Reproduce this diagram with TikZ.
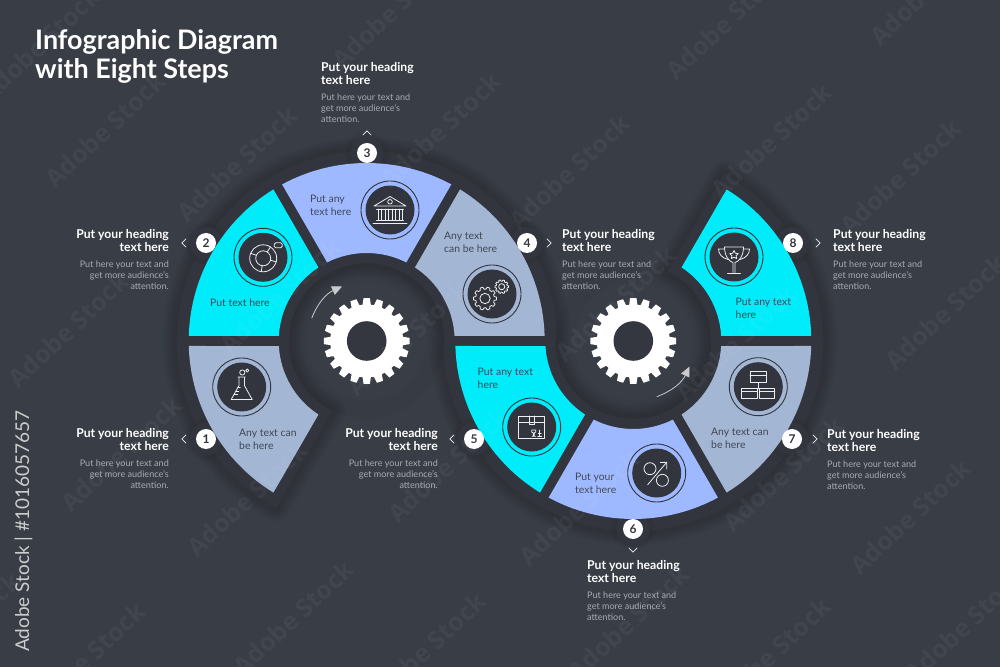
\documentclass[tikz,border=0pt]{standalone}
\usepackage{fontspec}
\setmainfont{Lato}
\newfontfamily\wmfont{Open Sans}
\usetikzlibrary{arrows.meta}
\definecolor{bgc}{HTML}{393D45}
\definecolor{bandc}{HTML}{32353D}
\definecolor{discc}{HTML}{34373F}
\definecolor{cyanc}{HTML}{00ECFB}
\definecolor{perc}{HTML}{9EB9FF}
\definecolor{grayc}{HTML}{A3B6D3}
\definecolor{segtxt}{HTML}{414857}
\definecolor{bodyc}{HTML}{A8ABB1}
\definecolor{iconc}{HTML}{ECEEF2}
\tikzset{
 x=1pt,y=1pt,
 hd/.style={text=white,inner sep=0pt,font=\bfseries\fontsize{12.2}{14}\selectfont},
 bd/.style={text=bodyc,inner sep=0pt,font=\fontsize{9.05}{11}\selectfont},
 sg/.style={text=segtxt,inner sep=0pt,anchor=base west,font=\fontsize{10.4}{13}\selectfont},
 ttl/.style={text=white,inner sep=0pt,anchor=base west,font=\bfseries\fontsize{26.9}{30}\selectfont},
 badge/.style={circle,fill=white,inner sep=0pt,minimum size=20pt,text=bandc,font=\bfseries\fontsize{12}{12}\selectfont},
 chev/.style={draw=iconc,line width=0.7pt},
 icon/.style={draw=iconc,line width=0.8pt,line join=round,line cap=round},
 flowarrow/.style={draw=iconc!85!black,line width=0.8pt,-{Triangle[length=10pt,width=9pt]}},
 wmark/.style={text=white,opacity=0.045,rotate=43,inner sep=0pt,font=\wmfont\bfseries\fontsize{25}{25}\selectfont},
}
\newcommand\ringseg[5]{\fill[#5,shift={(#1,#2)}] ({#3+1.61}:178) arc[start angle=#3+1.61,end angle=#4-1.61,radius=178] -- ({#4-3.26}:88) arc[start angle=#4-3.26,end angle=#3+3.26,radius=88] -- cycle;}
\newcommand\whgear[2]{\fill[white,shift={(#1,#2)}] (-6.5:36.5) \foreach \a in {0,18,...,342} { -- ({\a-6.5}:36.5) -- ({\a-4.2}:43) -- ({\a+4.2}:43) -- ({\a+6.5}:36.5) } -- cycle;
 \fill[discc,shift={(#1,#2)}] (0,0) circle[radius=19.8];}
\newcommand\linegear[3]{\draw[icon,shift={(#1,#2)},scale=#3] ({-12}:0.82) \foreach \a in {0,36,...,324} { -- ({\a-12}:0.82) -- ({\a-7}:1) -- ({\a+7}:1) -- ({\a+12}:0.82) } -- cycle;
 \draw[icon,shift={(#1,#2)}] (0,0) circle[radius=#3*0.45];}
\newcommand\iconbase[2]{\draw[bandc,line width=0.9pt] (#1,#2) circle[radius=29]; \fill[bandc] (#1,#2) circle[radius=24.5];}
\newcommand\block[4]{%
 \node[hd,anchor=base #2] (#1a) at (#3,{667-#4-4}) {Put your heading};
 \node[hd,anchor=base #2] (#1b) at (#3,{667-#4-17}) {text here};
 \node[bd,anchor=base #2] (#1c) at (#3,{667-#4-33}) {Put here your text and};
 \node[bd,anchor=base #2] (#1d) at (#3,{667-#4-44}) {get more audience's};
 \node[bd,anchor=base #2] (#1e) at (#3,{667-#4-55}) {attention.};
}
\newcommand\stext[5]{%
 \node[sg] (#1a) at (#2,{667-#3-3.5}) {#4};
 \ifx&#5&\else\node[sg] (#1b) at (#2,{667-#3-16.5}) {#5};\fi
}
\newcommand\chev[3]{\draw[chev,shift={(#1,{667-#2})},rotate=#3] (2.2,4.2) -- (-2.2,0) -- (2.2,-4.2);}
\def\spath{([shift={(366.7,326)}]241.5:190) arc[start angle=241.5,end angle=0,radius=190]
 -- ([shift={(633.3,326)}]180:78) arc[start angle=180,end angle=423.7,radius=78]
 -- ([shift={(633.3,326)}]61.5:190) arc[start angle=61.5,end angle=-180,radius=190]
 -- ([shift={(366.7,326)}]0:78) arc[start angle=0,end angle=243.7,radius=78] -- cycle}
\begin{document}
\begin{tikzpicture}
\useasboundingbox (0,0) rectangle (1000,667);
\fill[bgc] (0,0) rectangle (1000,667);
% soft shadow
\foreach \w in {28,24,20,16,12,8,4}{
 \draw[black,opacity=0.02,line width=\w pt,line join=round] \spath;
}
\fill[bandc] \spath;
% inner discs
\foreach \c in {366.7,633.3}{
 \foreach \r in {76,73,70,67,64,61}{
  \draw[black,opacity=0.025,line width=3pt] (\c,326) circle[radius=\r];
 }
}
% badge backings
\foreach \x/\y in {206/439,206/243,367/153,527/243,474/439,633/529,792/439,793/243}{
 \foreach \w in {12,8,4}{\draw[black,opacity=0.02,line width=\w pt] (\x,{667-\y}) circle[radius=16];}
 \fill[bandc] (\x,{667-\y}) circle[radius=16.5];
}
% segments
\ringseg{366.7}{326}{180}{240}{grayc}
\ringseg{366.7}{326}{120}{180}{cyanc}
\ringseg{366.7}{326}{60}{120}{perc}
\ringseg{366.7}{326}{0}{60}{grayc}
\ringseg{633.3}{326}{180}{240}{cyanc}
\ringseg{633.3}{326}{240}{300}{perc}
\ringseg{633.3}{326}{300}{360}{grayc}
\ringseg{633.3}{326}{0}{60}{cyanc}
% gears
\whgear{366.7}{326}
\whgear{633.3}{326}
% flow arrows
\coordinate (a1s) at (311.7,348.7);
\coordinate (a1e) at (342,380.5);
\draw[flowarrow] (a1s) to[bend left=22] (a1e);
\coordinate (a2s) at (656.7,270.3);
\coordinate (a2e) at (689.5,300.5);
\draw[flowarrow] (a2s) to[bend right=22] (a2e);
% icon discs
\iconbase{241.7}{280}
\iconbase{263}{409.7}
\iconbase{390}{457}
\iconbase{492}{373}
\iconbase{531.7}{240}
\iconbase{656.7}{194}
\iconbase{758.3}{280.3}
\iconbase{734}{410}
% flask
\begin{scope}[shift={(241.7,280)}]
 \draw[icon] (-3.6,10) -- (3.6,10) (-2.7,10) -- (-2.7,1.5) -- (-10.5,-12.5) -- (10.5,-12.5) -- (2.7,1.5) -- (2.7,10);
 \draw[icon] (-7.5,-7.5) -- (-4,-7.5) (-5.8,-4) -- (-3,-4) (-4,-0.5) -- (-1.5,-0.5);
 \draw[icon] (0.6,14.5) circle[radius=2.6] (5.6,16.5) circle[radius=1.6];
\end{scope}
% chart
\begin{scope}[shift={(263.2,408.7)}]
 \draw[icon] (0,0) circle[radius=13.5] (0,0) circle[radius=7.5];
 \draw[icon] (-12.5,5) -- (-6.8,3) (7.2,-2) -- (13,-3.5) (-1,-7.5) -- (-2,-13.4) (4,6.5) -- (7.5,11.5);
 \draw[icon,rounded corners=1.5pt,fill=bandc] (11,10.5) rectangle (19,15.5);
\end{scope}
% bank
\begin{scope}[shift={(390,458)}]
 \draw[icon] (-16,3) -- (0,12.5) -- (16,3) -- cycle;
 \draw[icon] (0,7.2) circle[radius=2.3];
 \draw[icon] (-13.5,0) -- (13.5,0) (-13.5,-11) -- (13.5,-11) (-17,-14) -- (17,-14);
 \foreach \c in {-10.5,-3.5,3.5,10.5}{\draw[icon] ({\c-1.5},0) -- ({\c-1.5},-11) ({\c+1.5},0) -- ({\c+1.5},-11);}
\end{scope}
% gears icon
\linegear{485}{368.5}{11.5}
\linegear{501.7}{380.3}{6.8}
% box
\begin{scope}[shift={(531.7,240)}]
 \draw[icon] (-13,-11.5) rectangle (13,11);
 \draw[icon] (-13,4.3) -- (13,4.3);
 \draw[icon] (-2.7,11) -- (-2.7,2.3) -- (2.7,2.3) -- (2.7,11);
 \draw[icon] (0,-3) -- (4,-3) -- (4,-5) -- (2.5,-6) -- (2.5,-9) (0,-3) -- (0,-5) -- (1.5,-6) -- (1.5,-9) (0.3,-9.2) -- (3.7,-9.2);
 \draw[icon] (8,-3) -- (8,-9) (6,-9.2) -- (10,-9.2) (6.5,-6) -- (9.5,-6);
\end{scope}
% percent
\begin{scope}[shift={(656.7,194)}]
 \draw[icon] (-6.7,4.3) circle[radius=6] (5.7,-7.3) circle[radius=6];
 \draw[icon] (-9,-11.7) -- (10,10.7);
 \draw[icon] (3.5,10.5) -- (10,10.7) -- (10,4);
\end{scope}
% hierarchy
\begin{scope}[shift={(758.3,280.3)}]
 \draw[icon] (-8.3,4) rectangle (8.3,15);
 \draw[icon] (-8.3,11.5) -- (8.3,11.5);
 \draw[icon] (0,4) -- (0,-1.7) (-8,-1.7) -- (8,-1.7);
 \draw[icon] (-16.5,-1.7) rectangle (-1.3,-11.7);
 \draw[icon] (1.3,-1.7) rectangle (16.5,-11.7);
 \draw[icon] (-16.5,-4.7) -- (-1.3,-4.7) (1.3,-4.7) -- (16.5,-4.7);
\end{scope}
% trophy
\begin{scope}[shift={(734,410)}]
 \draw[icon] (-1,-15.5) -- (-1,-5.5) .. controls (-5,-4.5) and (-9.5,1) .. (-9.5,10) -- (9.5,10) .. controls (9.5,1) and (5,-4.5) .. (1,-5.5) -- (1,-15.5);
 \draw[icon] (-6.5,-16) -- (6.5,-16);
 \draw[icon] (9.5,8) -- (15.5,8) .. controls (15.5,3) and (12,-1) .. (6,-2.5);
 \draw[icon] (-9.5,8) -- (-15.5,8) .. controls (-15.5,3) and (-12,-1) .. (-6,-2.5);
 \draw[icon,shift={(0,2)}] (90:4.5) \foreach \a in {126,162,...,414}{ -- (\a:{mod(round(\a-90),72)==0 ? 4.5 : 2.2}) } -- cycle;
\end{scope}
% number badges
\node[badge] (n1) at (206,{667-439}) {1};
\node[badge] (n2) at (206,{667-243}) {2};
\node[badge] (n3) at (367,{667-153}) {3};
\node[badge] (n4) at (527,{667-243}) {4};
\node[badge] (n5) at (474,{667-439}) {5};
\node[badge] (n6) at (633,{667-529}) {6};
\node[badge] (n7) at (792,{667-439}) {7};
\node[badge] (n8) at (793,{667-243}) {8};
% chevrons
\chev{184}{439}{0}
\chev{184}{243}{0}
\chev{367}{133}{-90}
\chev{549}{243}{180}
\chev{452}{439}{0}
\chev{633}{550}{90}
\chev{815}{439}{180}
\chev{818}{243}{180}
% segment text
\stext{s1}{239}{433}{Any text can}{be here}
\stext{s2}{210}{303}{Put text here}{}
\stext{s3}{310}{199.5}{Put any}{text here}
\stext{s4}{444}{236.5}{Any text}{can be here}
\stext{s5}{477.5}{372}{Put any text}{here}
\stext{s6}{575}{477}{Put your}{text here}
\stext{s7}{711}{432}{Any text can}{be here}
\stext{s8}{735.5}{302}{Put any text}{here}
% side text blocks
\block{b1}{east}{169}{433}
\block{b2}{east}{169}{235}
\block{b3}{west}{321}{68}
\block{b4}{west}{562}{235}
\block{b5}{east}{438}{433}
\block{b6}{west}{587}{565.5}
\block{b7}{west}{827}{434}
\block{b8}{west}{833}{235}
% title
\node[ttl] (t1) at (35,{667-49.5}) {Infographic Diagram};
\node[ttl] (t2) at (35,{667-78.5}) {with Eight Steps};
% watermark
\foreach \x/\y [count=\i] in {40/45,105/130,237/164,392/11,440/130,569/172,726/22,771/141,900/177,930/-12,
 68/330,280/296,407/338,615/304,735/343,945/312,
 121/454,247/499,448/465,579/508,783/474,910/517,
 85/660,293/618,425/650,628/623,770/655,965/625,-40/630}{
 \node[wmark] (wm\i) at (\x,{667-\y}) {Adobe Stock};
}
\node[text=white!80!black,rotate=90,anchor=base west,inner sep=0pt,font=\fontsize{19}{19}\selectfont] (stk) at (29,{667-652}) {Adobe Stock | \#1016057657};
\end{tikzpicture}
\end{document}
